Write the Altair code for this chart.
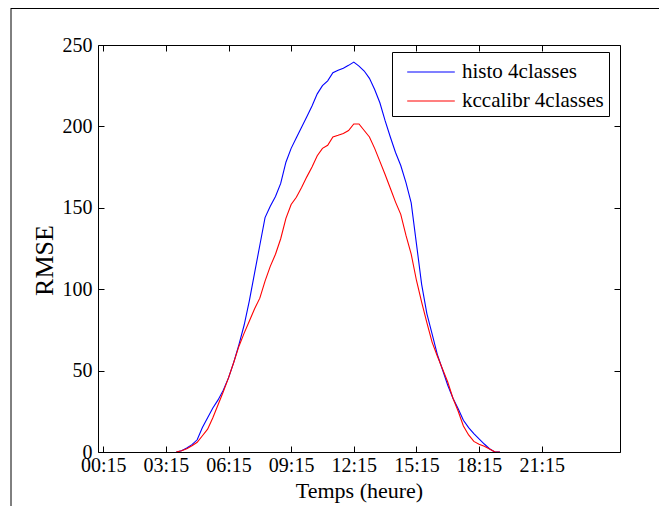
import json
import altair as alt
import pandas as pd

# 15-minute slots, index 1 = 00:15 ... 96 = 24:00 ; values listed from slot 15 to slot 77,
# all other slots are 0 and lie on the x axis
first_slot = 15

histo = [
    0.0,
    0.8, 2.5, 4.5, 7.5, 15, 21, 27, 32, 38, 45.5,
    55, 66, 78, 93, 110, 127, 144, 151, 157, 165,
    178, 186.5, 193, 199.5, 206, 212.5, 220, 225, 228, 233,
    234.5, 235.7, 237.5, 239.5, 237, 234, 229.5, 222.7, 214.5, 203.5,
    193.5, 184, 176, 165.5, 153, 128, 103, 85, 72.5, 60,
    50.5, 41, 33, 26.5, 19.5, 15, 11.3, 8, 4.9, 2,
    0.0, 0.0,
]

kccalibr = [
    0.0,
    0.8, 2, 3.8, 6, 10, 14, 21, 29, 37, 45.5,
    55, 65, 73, 80.5, 88, 94.5, 105, 114, 121.5, 131,
    143.5, 152, 156.5, 162.5, 169, 175, 182, 186.5, 188.4, 193.5,
    194.5, 195.7, 197.5, 201.5, 201.5, 197.5, 193.5, 186.5, 178.5, 170.5,
    162, 153.5, 146, 133, 121.5, 105.5, 92, 79.5, 67.5, 59,
    51, 43, 33, 25, 16, 10.5, 6.5, 4.8, 3.5, 1.8,
    0.1, 0.0,
]

series_names = ["histo 4classes", "kccalibr 4classes"]
series_colors = ["#0000ff", "#ff0000"]

x_tick_values = [1, 13, 25, 37, 49, 61, 73, 85]
x_tick_labels = ["00:15", "03:15", "06:15", "09:15", "12:15", "15:15", "18:15", "21:15"]
y_tick_values = [0, 50, 100, 150, 200, 250]

rows = []
for name, vals in zip(series_names, [histo, kccalibr]):
    for k, v in enumerate(vals):
        rows.append({"slot": first_slot + k, "RMSE": v, "serie": name})
df = pd.DataFrame(rows)

FONT = "Liberation Serif"
label_expr = json.dumps(x_tick_labels) + "[round((datum.value - 1) / 12)]"

xscale = alt.Scale(domain=[0, 100], nice=False, zero=False)
yscale = alt.Scale(domain=[0, 250], nice=False)

x_bottom = alt.X(
    "slot:Q", scale=xscale, title="Temps (heure)",
    axis=alt.Axis(
        orient="bottom", values=x_tick_values, labelExpr=label_expr,
        offset=-6, tickSize=6, domain=False, grid=False,
        labelPadding=3, titlePadding=5, zindex=1,
    ),
)
y_left = alt.Y(
    "RMSE:Q", scale=yscale, title="RMSE",
    axis=alt.Axis(
        orient="left", values=y_tick_values, offset=-6, tickSize=6,
        domain=False, grid=False, labelPadding=6, titlePadding=5, zindex=1,
        titleFontSize=26, titleY=215,
    ),
)

color = alt.Color(
    "serie:N",
    scale=alt.Scale(domain=series_names, range=series_colors),
    legend=alt.Legend(
        title=None, orient="none", legendX=294, legendY=7,
        symbolType="M-1.7,0H1.7", symbolSize=784, symbolStrokeWidth=1.2,
        symbolFillColor="transparent",
        labelFont=FONT, labelFontSize=21, labelColor="black",
        strokeColor="black", fillColor="white", padding=5,
        rowPadding=4, labelOffset=16, symbolOffset=19,
    ),
)

lines = alt.Chart(df).mark_line(strokeWidth=1.1, clip=True).encode(
    x=x_bottom, y=y_left, color=color, detail="serie:N"
)

mirror = alt.Chart(df).mark_line(opacity=0).encode(
    x=alt.X("slot:Q", scale=xscale, axis=alt.Axis(
        orient="top", values=x_tick_values, labels=False, title=None,
        offset=-6, tickSize=6, domain=False, grid=False, zindex=1)),
    y=alt.Y("RMSE:Q", scale=yscale, axis=alt.Axis(
        orient="right", values=y_tick_values, labels=False, title=None,
        offset=-6, tickSize=6, domain=False, grid=False, zindex=1)),
    detail="serie:N",
)

border_left = alt.Chart(alt.Data(values=[{}])).mark_rule(color="black", strokeWidth=1).encode(
    x=alt.value(-87), y=alt.value(-37), y2=alt.value(480)
)
border_top = alt.Chart(alt.Data(values=[{}])).mark_rule(color="black", strokeWidth=1).encode(
    x=alt.value(-87), x2=alt.value(570), y=alt.value(-36.5)
)

chart = (
    alt.layer(lines, mirror, border_left, border_top)
    .resolve_axis(x="independent", y="independent")
    .properties(
        width=522, height=407,
        autosize=alt.AutoSizeParams(type="none"),
        padding={"left": 90, "top": 37, "right": 39, "bottom": 60},
        background="white",
    )
    .configure_view(stroke="black", strokeWidth=1)
    .configure_axis(
        labelFont=FONT, labelFontSize=20, labelColor="black",
        titleFont=FONT, titleFontSize=22, titleColor="black", titleFontWeight="normal",
        tickColor="black", tickWidth=1,
    )
)

chart.save("out.html", embed_options={"renderer": "svg", "actions": False})
